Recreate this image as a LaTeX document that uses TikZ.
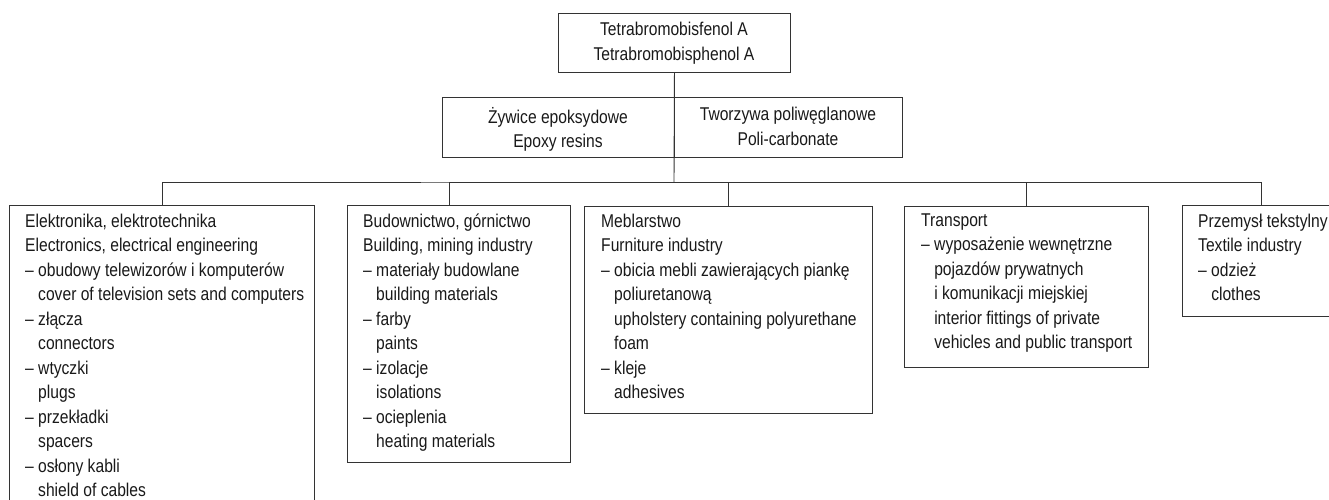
\documentclass[tikz,border=0pt]{standalone}
\usepackage{fontspec}
\newfontfamily\cf{Liberation Sans}[FakeStretch=0.845]
\newcommand\ind{\hphantom{– }}
\tikzset{
  box/.style={draw=black!80, line width=0.9pt, inner sep=0pt, anchor=north west},
  txt/.style={anchor=north west, inner sep=0pt, align=left,
    font=\cf\fontsize{18.5}{24.5}\selectfont, text=black!90,
    execute at begin node=\strut},
  ctxt/.style={txt, anchor=north, align=center},
  link/.style={draw=black!80, line width=0.9pt},
}
\begin{document}
\begin{tikzpicture}[x=1pt,y=-1pt]
\useasboundingbox (0,0) rectangle (1329,500);
\clip (0,0) rectangle (1329,500);
% boxes
\node[box, minimum width=232pt, minimum height=59pt] (top) at (558,13) {};
\node[box, minimum width=232pt, minimum height=60pt] (epo) at (442,97) {};
\node[box, minimum width=228pt, minimum height=60pt] (pol) at (674,97) {};
\node[box, minimum width=305pt, minimum height=315pt] (elec) at (9,205) {};
\node[box, minimum width=223pt, minimum height=257pt] (bld) at (347,205) {};
\node[box, minimum width=288pt, minimum height=207pt] (meb) at (584,206) {};
\node[box, minimum width=244pt, minimum height=161pt] (tra) at (904,206) {};
\node[box, minimum width=158pt, minimum height=111pt] (tex) at (1182,205) {};
% texts
\node[ctxt] (toptxt) at (674,22) {Tetrabromobisfenol A\\Tetrabromobisphenol A};
\node[ctxt] (epotxt) at (558,107) {Żywice epoksydowe\\Epoxy resins};
\node[ctxt] (poltxt) at (788,107) {Tworzywa poliwęglanowe\\Poli-carbonate};
\node[txt] (electxt) at (25,213.5) {Elektronika, elektrotechnika\\
Electronics, electrical engineering\\
– obudowy telewizorów i komputerów\\
\ind cover of television sets and computers\\
– złącza\\
\ind connectors\\
– wtyczki\\
\ind plugs\\
– przekładki\\
\ind spacers\\
– osłony kabli\\
\ind shield of cables};
\node[txt] (bldtxt) at (363,213.5) {Budownictwo, górnictwo\\
Building, mining industry\\
– materiały budowlane\\
\ind building materials\\
– farby\\
\ind paints\\
– izolacje\\
\ind isolations\\
– ocieplenia\\
\ind heating materials};
\node[txt] (mebtxt) at (601,213.5) {Meblarstwo\\
Furniture industry\\
– obicia mebli zawierających piankę\\
\ind poliuretanową\\
\ind upholstery containing polyurethane\\
\ind foam\\
– kleje\\
\ind adhesives};
\node[txt] (tratxt) at (921,213.5) {Transport\\
– wyposażenie wewnętrzne\\
\ind pojazdów prywatnych\\
\ind i komunikacji miejskiej\\
\ind interior fittings of private\\
\ind vehicles and public transport};
\node[txt] (textxt) at (1198,213.5) {Przemysł tekstylny\\
Textile industry\\
– odzież\\
\ind clothes};
% connectors
\coordinate (bus) at (674,182);
\coordinate (bldtop) at (449,205);
\draw[link] (top.south) -- (bus);
\draw[link] (elec.north) |- (bus) -| (tex.north);
\draw[link] (bus) -| (bldtop);
\draw[link] (bus) -| (meb.north);
\draw[link] (bus) -| (tra.north);
\end{tikzpicture}
\end{document}
